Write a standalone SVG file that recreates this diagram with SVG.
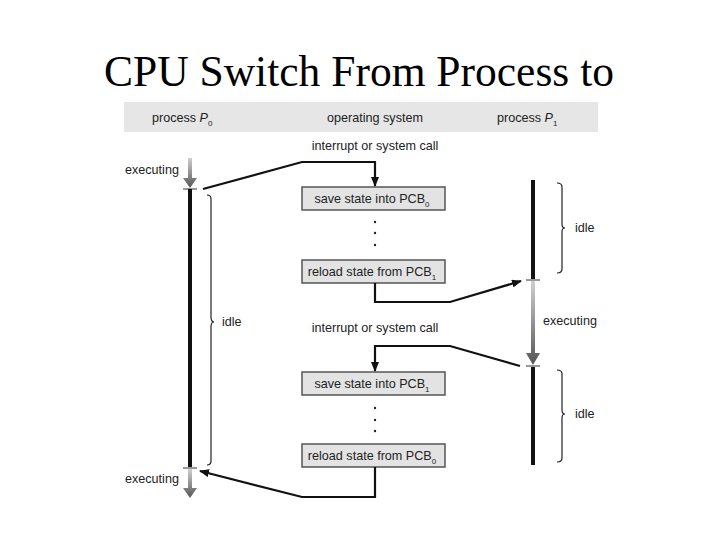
<svg xmlns="http://www.w3.org/2000/svg" width="720" height="540" viewBox="0 0 720 540">
<style>
text{font-family:"Liberation Sans",Arial,sans-serif;font-size:12.6px;fill:#222}
.t{font-family:"Liberation Serif","Times New Roman",serif;font-size:43.5px;fill:#000}
.box rect{fill:#e3e3e3;stroke:#555;stroke-width:1.5}
.c{fill:none;stroke:#111;stroke-width:2.2}
.br{fill:none;stroke:#222;stroke-width:1.2}
.bar{stroke:#111;stroke-width:4}
</style>
<defs>
<marker id="ah" markerWidth="10" markerHeight="8" refX="9" refY="4" orient="auto" markerUnits="userSpaceOnUse"><path d="M0,0L10,4L0,8z" fill="#111"/></marker>
<linearGradient id="g" x1="0" y1="0" x2="0" y2="1"><stop offset="0" stop-color="#d0d0d0"/><stop offset="1" stop-color="#555"/></linearGradient>
</defs>
<text class="t" x="359" y="86" text-anchor="middle">CPU Switch From Process to</text>
<rect x="124" y="102" width="474" height="30" fill="#e6e6e6"/>
<text x="152" y="122">process <tspan font-style="italic">P</tspan><tspan font-size="8" dy="4">0</tspan></text>
<text x="375" y="122" text-anchor="middle">operating system</text>
<text x="497" y="122">process <tspan font-style="italic">P</tspan><tspan font-size="8" dy="4">1</tspan></text>
<g id="p0">
<path d="M188,158h4v20h5l-7,10l-7,-10h5z" fill="url(#g)"/>
<line x1="183" y1="189" x2="197" y2="189" stroke="#333"/>
<line class="bar" x1="190" y1="189" x2="190" y2="467"/>
<line x1="183" y1="468" x2="197" y2="468" stroke="#333"/>
<path d="M188,469h4v19h5l-7,10l-7,-10h5z" fill="url(#g)"/>
<text x="125" y="174">executing</text>
<text x="125" y="483">executing</text>
<path class="br" d="M207,195q4,0 4,4v118q0,5 3,5q-3,0 -3,5v134q0,4 -4,4"/>
<text x="222" y="326">idle</text>
</g>
<g id="p1">
<line class="bar" x1="533" y1="180" x2="533" y2="279"/>
<line x1="526" y1="280" x2="540" y2="280" stroke="#333"/>
<path d="M531,281h4v72h5l-7,12l-7,-12h5z" fill="url(#g)"/>
<line x1="526" y1="366" x2="540" y2="366" stroke="#333"/>
<line class="bar" x1="533" y1="367" x2="533" y2="465"/>
<text x="543" y="325">executing</text>
<path class="br" d="M557,183q5,0 5,4v37q0,4 3,4q-3,0 -3,4v37q0,4 -5,4"/>
<text x="575" y="232">idle</text>
<path class="br" d="M557,370q5,0 5,4v36q0,4 3,4q-3,0 -3,4v40q0,4 -5,4"/>
<text x="575" y="418">idle</text>
</g>
<g id="os">
<text x="375" y="150" text-anchor="middle">interrupt or system call</text>
<text x="375" y="332" text-anchor="middle">interrupt or system call</text>
<g class="box" id="b1"><rect x="302" y="187" width="143" height="23"/><text x="372" y="203" text-anchor="middle">save state into PCB<tspan font-size="8" dy="4">0</tspan></text></g>
<g class="box" id="b2"><rect x="302" y="260" width="143" height="23"/><text x="372" y="276" text-anchor="middle">reload state from PCB<tspan font-size="8" dy="4">1</tspan></text></g>
<g class="box" id="b3"><rect x="302" y="372" width="143" height="23"/><text x="372" y="388" text-anchor="middle">save state into PCB<tspan font-size="8" dy="4">1</tspan></text></g>
<g class="box" id="b4"><rect x="302" y="444" width="143" height="23"/><text x="372" y="460" text-anchor="middle">reload state from PCB<tspan font-size="8" dy="4">0</tspan></text></g>
<g fill="#222"><circle cx="375" cy="222" r="1.2"/><circle cx="375" cy="233" r="1.2"/><circle cx="375" cy="245" r="1.2"/><circle cx="375" cy="408" r="1.2"/><circle cx="375" cy="420" r="1.2"/><circle cx="375" cy="431" r="1.2"/></g>
</g>
<g id="connectors">
<path class="c" d="M203,189L302,162H375V186" marker-end="url(#ah)"/>
<path class="c" d="M375,283V302H450L521,281" marker-end="url(#ah)"/>
<path class="c" d="M520,366L450,346H375V371" marker-end="url(#ah)"/>
<path class="c" d="M375,467V497H302L200,471" marker-end="url(#ah)"/>
</g>
</svg>
